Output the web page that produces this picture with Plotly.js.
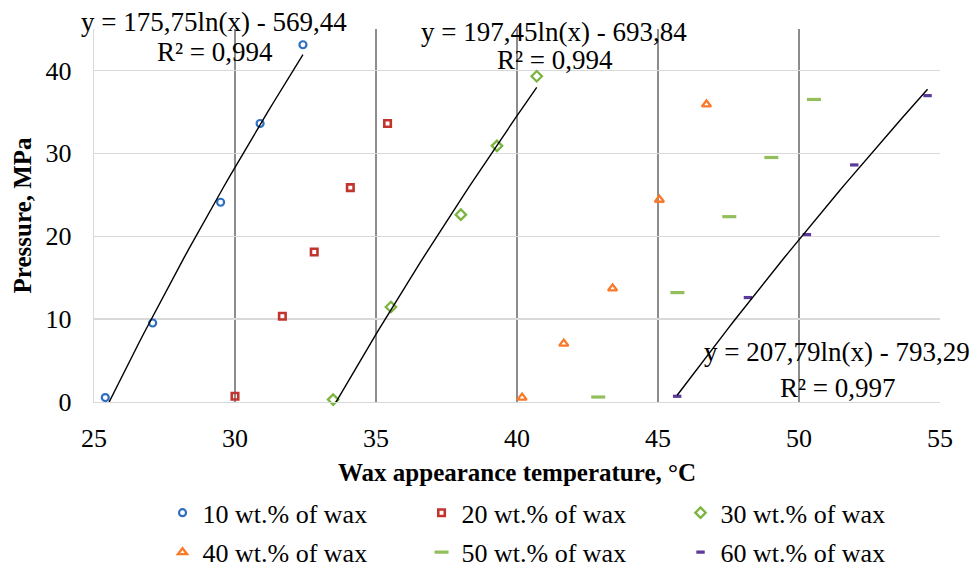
<!DOCTYPE html>
<html>
<head>
<meta charset="utf-8">
<script src="https://cdn.plot.ly/plotly-3.0.1.min.js"></script>
<style>html,body{margin:0;padding:0;background:#fff;}#chart{width:974px;height:569px;}</style>
</head>
<body>
<div id="chart"></div>
<script>
// ---- data ----
const seriesNames = ["10 wt.% of wax", "20 wt.% of wax", "30 wt.% of wax",
                     "40 wt.% of wax", "50 wt.% of wax", "60 wt.% of wax"];
const temp10 = [25.40, 27.08, 29.49, 30.89, 32.41];
const pres10 = [0.53, 9.53, 24.1, 33.6, 43.1];
const temp20 = [30.00, 31.68, 32.81, 34.09, 35.41];
const pres20 = [0.69, 10.34, 18.1, 25.86, 33.6];
const temp30 = [33.48, 35.53, 38.01, 39.29, 40.70];
const pres30 = [0.29, 11.46, 22.6, 30.9, 39.3];
const temp40 = [40.18, 41.66, 43.39, 45.05, 46.72];
const pres40 = [0.53, 7.04, 13.7, 24.4, 35.9];
const temp50 = [42.88, 45.69, 47.53, 49.02, 50.53];
const pres50 = [0.6, 13.2, 22.36, 29.5, 36.5];
const temp60 = [45.68, 48.19, 50.28, 51.96, 54.56];
const pres60 = [0.69, 12.6, 20.2, 28.6, 36.96];

// logarithmic trendlines shown on the chart: y = a*ln(x) + b
const trendSeries = [0, 2, 5];
const trendA = [175.75, 197.45, 207.79];
const trendB = [-569.44, -693.84, -793.29];
const trendEq = ["y = 175,75ln(x) - 569,44", "y = 197,45ln(x) - 693,84", "y = 207,79ln(x) - 793,29"];
const trendR2 = ["R² = 0,994", "R² = 0,994", "R² = 0,997"];

const xTicks = [25, 30, 35, 40, 45, 50, 55];
const yTicks = [0, 10, 20, 30, 40];

// ---- styling ----
const temps = [temp10, temp20, temp30, temp40, temp50, temp60];
const press = [pres10, pres20, pres30, pres40, pres50, pres60];
const markerStyles = [
  {symbol: "circle-open", size: 7, color: "#2F6FC2", line: {width: 2.2, color: "#2F6FC2"}},
  {symbol: "square-open", size: 6.5, color: "#C2352F", line: {width: 2.6, color: "#C2352F"}},
  {symbol: "diamond-open", size: 8, color: "#7BB53F", line: {width: 2.3, color: "#7BB53F"}},
  {symbol: "triangle-up-open", size: 8, color: "#F87A2A", line: {width: 2.3, color: "#F87A2A"}},
  {symbol: "line-ew", size: 10, color: "#92BE5B", line: {width: 3.2, color: "#92BE5B"}},
  {symbol: "line-ew", size: 6, color: "#5B3A9A", line: {width: 3.2, color: "#5B3A9A"}}
];
const font = "Liberation Serif";

const traces = [];
for (let i = 0; i < 6; i++) {
  traces.push({
    type: "scatter", mode: "markers",
    x: temps[i], y: press[i], name: seriesNames[i],
    marker: markerStyles[i],
    legend: i < 3 ? "legend" : "legend2",
    cliponaxis: false
  });
}
for (let k = 0; k < trendSeries.length; k++) {
  const xs = temps[trendSeries[k]];
  const x0 = Math.min(...xs), x1 = Math.max(...xs);
  const tx = [], ty = [];
  const n = 40;
  for (let j = 0; j <= n; j++) {
    const x = x0 + (x1 - x0) * j / n;
    tx.push(x);
    ty.push(trendA[k] * Math.log(x) + trendB[k]);
  }
  traces.push({type: "scatter", mode: "lines", x: tx, y: ty, showlegend: false,
               hoverinfo: "skip", line: {color: "#000", width: 1.4}});
}

const eqPos = [[0.1415, 1.0196], [0.5436, 0.9928], [0.8782, 0.1342]];
const r2Pos = [[0.1427, 0.9391], [0.5448, 0.9168], [0.8794, 0.0368]];
const annotations = [];
for (let k = 0; k < trendEq.length; k++) {
  annotations.push({text: trendEq[k], xref: "paper", yref: "paper", x: eqPos[k][0], y: eqPos[k][1],
    xanchor: "center", yanchor: "middle", showarrow: false,
    font: {family: font, size: 27, color: "#000"}});
  annotations.push({text: trendR2[k], xref: "paper", yref: "paper", x: r2Pos[k][0], y: r2Pos[k][1],
    xanchor: "center", yanchor: "middle", showarrow: false,
    font: {family: font, size: 27, color: "#000"}});
}

const legendBase = {
  orientation: "h", xanchor: "left", yanchor: "middle",
  font: {family: font, size: 26, color: "#000"},
  bgcolor: "rgba(0,0,0,0)", entrywidth: 214, itemwidth: 30
};

const layout = {
  width: 974, height: 569,
  margin: {l: 94, r: 34, t: 29, b: 167, autoexpand: false},
  paper_bgcolor: "#fff", plot_bgcolor: "#fff",
  font: {family: font, size: 25, color: "#000"},
  xaxis: {
    range: [25, 55.001], tickvals: xTicks, ticktext: xTicks.map(String),
    showgrid: true, gridcolor: "#8c8c8c", gridwidth: 1.3,
    showline: true, linecolor: "#d9d9d9", linewidth: 1.3,
    zeroline: false, ticks: "", tickfont: {family: font, size: 26},
    ticklabelstandoff: 12,
    title: {text: "<b>Wax appearance temperature, °C</b>", font: {family: font, size: 25}, standoff: 12}
  },
  yaxis: {
    range: [0, 45], tickvals: yTicks, ticktext: yTicks.map(String),
    showgrid: true, gridcolor: "#d9d9d9", gridwidth: 1.3,
    showline: true, linecolor: "#d9d9d9", linewidth: 1.3,
    zeroline: false, ticks: "", tickfont: {family: font, size: 26},
    ticklabelstandoff: 16,
    title: {text: "<b>Pressure, MPa</b>", font: {family: font, size: 25}, standoff: 6}
  },
  legend: Object.assign({}, legendBase, {x: 0.081, y: -0.297}),
  legend2: Object.assign({}, legendBase, {x: 0.081, y: -0.403}),
  annotations: annotations,
  showlegend: true
};

Plotly.newPlot("chart", traces, layout, {displayModeBar: false, staticPlot: true});
</script>
</body>
</html>
